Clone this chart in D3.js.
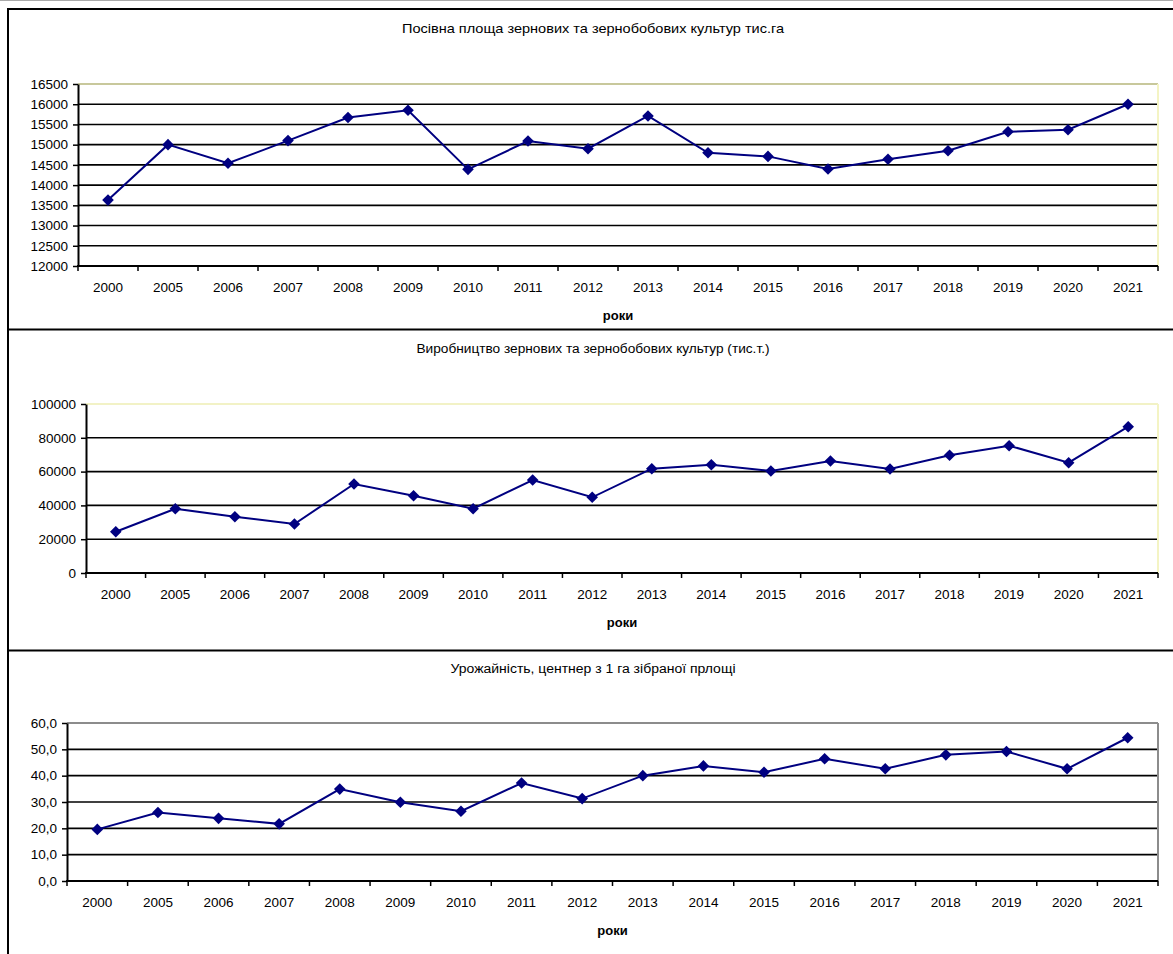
<!DOCTYPE html>
<html>
<head>
<meta charset="utf-8">
<script src="https://cdn.jsdelivr.net/npm/d3@7"></script>
<style>
  body { margin: 0; background: #fff; }
  svg { display: block; }
  text { font-family: "Liberation Sans", Arial, sans-serif; fill: #000; }
</style>
</head>
<body>
<svg id="chart" width="1173" height="954"></svg>
<script>
// Years on the category axis (shared by all three panels)
const years = ["2000","2005","2006","2007","2008","2009","2010","2011","2012",
               "2013","2014","2015","2016","2017","2018","2019","2020","2021"];

// Sown area of grain and leguminous crops, thousand ha
const sownArea = [13630,15000,14540,15100,15670,15850,14390,15090,14900,
                  15710,14800,14710,14400,14640,14850,15320,15370,16000];

// Production of grain and leguminous crops, thousand tonnes
const production = [24440,38050,33300,29000,52660,45740,38050,55030,44790,
                    61720,64080,60360,66270,61540,69640,75330,65270,86570];

// Yield, centners per hectare of harvested area
const yieldPerHa = [19.6,26.0,23.8,21.7,34.9,29.9,26.5,37.2,31.3,
                    40.0,43.7,41.3,46.4,42.6,47.9,49.2,42.6,54.4];

// Value-axis ticks
const sownTicks = [12000,12500,13000,13500,14000,14500,15000,15500,16000,16500];
const productionTicks = [0,20000,40000,60000,80000,100000];
const yieldTicks = [0,10,20,30,40,50,60];

// Titles
const titles = [
  "Посівна площа зернових та зернобобових культур тис.га",
  "Виробництво зернових та зернобобових культур (тис.т.)",
  "Урожайність, центнер з 1 га зібраної прлощі"
];
const axisTitle = "роки";

const commaLocale = d3.formatLocale({decimal: ",", thousands: "", grouping: [3], currency: ["", ""]});

const panels = [
  { title: titles[0], values: sownArea, ticks: sownTicks, fmt: d3.format("d"),
    left: 78, right: 1158, top: 84, bottom: 266, titleY: 30, titleLen: 382, titleSize: 13,
    borderTop: "#c8c89c", borderRight: "#f4f4c4" },
  { title: titles[1], values: production, ticks: productionTicks, fmt: d3.format("d"),
    left: 86, right: 1158, top: 404, bottom: 573, titleY: 350, titleLen: 353, titleSize: 12,
    borderTop: "#f2f2c6", borderRight: "#f4f4c4" },
  { title: titles[2], values: yieldPerHa, ticks: yieldTicks, fmt: commaLocale.format(".1f"),
    left: 67, right: 1158, top: 723, bottom: 881, titleY: 670, titleLen: 285, titleSize: 12,
    borderTop: "#8c8c8c", borderRight: "#8c8c8c" }
];

const svg = d3.select("#chart");

// Chart frames
const frame = svg.append("g").attr("stroke", "#000").attr("stroke-width", 2);
frame.append("line").attr("x1", 0).attr("x2", 1173).attr("y1", 0.5).attr("y2", 0.5)
  .attr("stroke", "#aaa").attr("stroke-width", 1);
frame.append("line").attr("x1", 8).attr("x2", 1173).attr("y1", 9).attr("y2", 9);
frame.append("line").attr("x1", 8).attr("x2", 1173).attr("y1", 329.5).attr("y2", 329.5);
frame.append("line").attr("x1", 8).attr("x2", 1173).attr("y1", 650.5).attr("y2", 650.5);
frame.append("line").attr("x1", 8).attr("x2", 8).attr("y1", 8).attr("y2", 954);

const diamond = "M0,-5.8L5.8,0L0,5.8L-5.8,0Z";
const labelSize = 13.5;

panels.forEach(p => {
  const g = svg.append("g");
  const x = d3.scaleBand().domain(years).range([p.left, p.right]).padding(0);
  const y = d3.scaleLinear().domain([p.ticks[0], p.ticks[p.ticks.length - 1]]).range([p.bottom, p.top]);
  const bw = x.bandwidth();
  const cx = d => x(d) + bw / 2;

  // Title
  g.append("text")
    .attr("x", 593).attr("y", p.titleY)
    .attr("text-anchor", "middle").attr("dominant-baseline", "middle")
    .attr("font-size", p.titleSize)
    .attr("textLength", p.titleLen).attr("lengthAdjust", "spacingAndGlyphs")
    .text(p.title);

  // Horizontal gridlines (the top one is the plot border)
  g.append("g").selectAll("line")
    .data(p.ticks.slice(1, -1))
    .join("line")
    .attr("x1", p.left).attr("x2", p.right)
    .attr("y1", d => y(d)).attr("y2", d => y(d))
    .attr("stroke", "#000").attr("stroke-width", 1.6);

  // Plot area border (top and right)
  g.append("line").attr("x1", p.left).attr("x2", p.right)
    .attr("y1", p.top).attr("y2", p.top)
    .attr("stroke", p.borderTop).attr("stroke-width", 2);
  g.append("line").attr("x1", p.right).attr("x2", p.right)
    .attr("y1", p.top).attr("y2", p.bottom)
    .attr("stroke", p.borderRight).attr("stroke-width", 2);

  // Value axis
  const yAxis = g.append("g")
    .attr("transform", `translate(${p.left},0)`)
    .call(d3.axisLeft(y).tickValues(p.ticks).tickFormat(p.fmt).tickSize(5).tickSizeOuter(0).tickPadding(5));
  yAxis.select(".domain").attr("stroke", "#000").attr("stroke-width", 2);
  yAxis.selectAll(".tick line").attr("stroke", "#000").attr("stroke-width", 1.5);
  yAxis.selectAll(".tick text").attr("font-size", labelSize).attr("fill", "#000")
    .style("font-family", '"Liberation Sans", Arial, sans-serif');

  // Category axis: baseline, boundary ticks and year labels
  g.append("line").attr("x1", p.left - 1).attr("x2", p.right)
    .attr("y1", p.bottom).attr("y2", p.bottom)
    .attr("stroke", "#000").attr("stroke-width", 2);
  const bounds = years.map(d => x(d)).concat([p.right]);
  g.append("g").selectAll("line")
    .data(bounds)
    .join("line")
    .attr("x1", d => d).attr("x2", d => d)
    .attr("y1", p.bottom).attr("y2", p.bottom + 5)
    .attr("stroke", "#000").attr("stroke-width", 1.5);
  g.append("g").selectAll("text")
    .data(years)
    .join("text")
    .attr("x", d => cx(d)).attr("y", p.bottom + 22)
    .attr("text-anchor", "middle").attr("dominant-baseline", "middle")
    .attr("font-size", labelSize)
    .text(d => d);

  // Axis title
  g.append("text")
    .attr("x", (p.left + p.right) / 2).attr("y", p.bottom + 51)
    .attr("text-anchor", "middle").attr("dominant-baseline", "middle")
    .attr("font-size", 13).attr("font-weight", "bold")
    .text(axisTitle);

  // Series line and diamond markers
  const pts = years.map((yr, i) => ({ yr, v: p.values[i] }));
  g.append("path")
    .datum(pts)
    .attr("fill", "none").attr("stroke", "#000080").attr("stroke-width", 2)
    .attr("d", d3.line().x(d => cx(d.yr)).y(d => y(d.v)));
  g.append("g").selectAll("path")
    .data(pts)
    .join("path")
    .attr("transform", d => `translate(${cx(d.yr)},${y(d.v)})`)
    .attr("d", diamond)
    .attr("fill", "#000080");
});
</script>
</body>
</html>
